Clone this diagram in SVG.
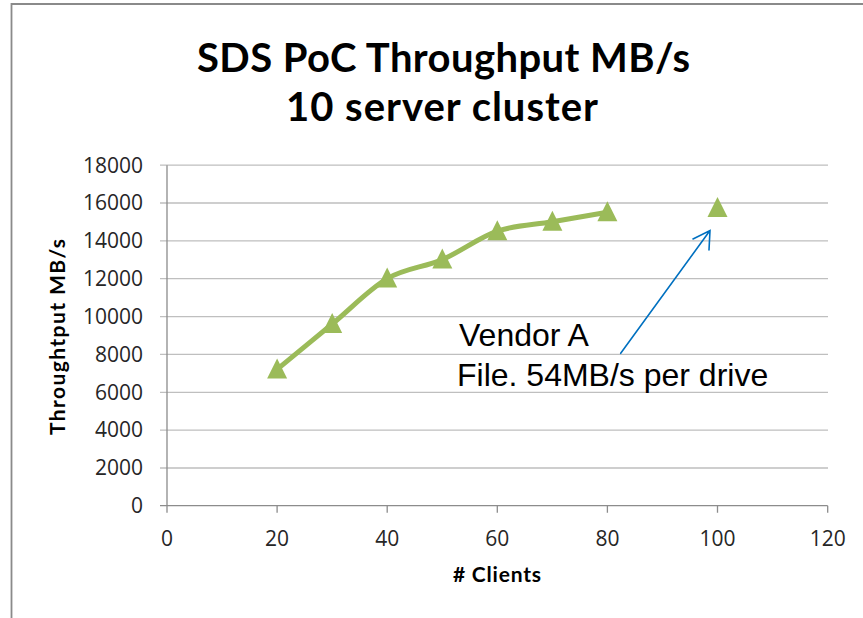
<svg xmlns="http://www.w3.org/2000/svg" width="863" height="618" viewBox="0 0 863 618">
<style>
.tick{font-family:"Open Sans","Liberation Sans",sans-serif;font-size:21px;fill:#262626}
.ylab{text-anchor:end}
.xlab{text-anchor:middle}
.grid{stroke:#BFBFBF;stroke-width:1.3;fill:none}
.axis{stroke:#8C8C8C;stroke-width:1.3;fill:none}
.title{font-family:"Lato","Open Sans","Liberation Sans",sans-serif;font-weight:bold;font-size:40px;fill:#000;text-anchor:middle}
.atitle{font-family:"Lato","Open Sans","Liberation Sans",sans-serif;font-weight:bold;font-size:21px;fill:#000;text-anchor:middle}
.mk{fill:#9BBB59}
.note{font-family:"Liberation Sans",Arial,sans-serif;font-size:32px;fill:#000}
</style>
<defs>
<path id="tri" d="M0,-11 L10,9 L-10,9 Z" class="mk"/>
</defs>
<rect x="0" y="0" width="863" height="618" fill="#fff"/>
<g id="frame">
<path d="M11.5,618 V4 H863" stroke="#8A8A8A" stroke-width="1.8" fill="none"/>
</g>
<g id="title">
<text class="title" x="443.5" y="72" textLength="493">SDS PoC Throughput MB/s</text>
<text class="title" x="442" y="121" textLength="312">10 server cluster</text>
</g>
<g id="gridlines">
<path class="grid" d="M160,165.2H828 M160,203H828 M160,240.9H828 M160,278.7H828 M160,316.6H828 M160,354.4H828 M160,392.3H828 M160,430.1H828 M160,468H828"/>
</g>
<g id="axes">
<path class="axis" d="M167,165.2V505.7 M160,505.7H827.7 M167,505.7v7 M277.1,505.7v7 M387.2,505.7v7 M497.3,505.7v7 M607.4,505.7v7 M717.5,505.7v7 M827.7,505.7v7"/>
</g>
<g id="yticks">
<text class="tick ylab" x="143" y="172.5">18000</text>
<text class="tick ylab" x="143" y="210.3">16000</text>
<text class="tick ylab" x="143" y="248.2">14000</text>
<text class="tick ylab" x="143" y="286">12000</text>
<text class="tick ylab" x="143" y="323.9">10000</text>
<text class="tick ylab" x="143" y="361.7">8000</text>
<text class="tick ylab" x="143" y="399.6">6000</text>
<text class="tick ylab" x="143" y="437.4">4000</text>
<text class="tick ylab" x="143" y="475.3">2000</text>
<text class="tick ylab" x="143" y="513">0</text>
</g>
<g id="xticks">
<text class="tick xlab" x="167" y="546">0</text>
<text class="tick xlab" x="277.1" y="546">20</text>
<text class="tick xlab" x="387.2" y="546">40</text>
<text class="tick xlab" x="497.3" y="546">60</text>
<text class="tick xlab" x="607.4" y="546">80</text>
<text class="tick xlab" x="717.5" y="546">100</text>
<text class="tick xlab" x="827.7" y="546">120</text>
</g>
<g id="axis-titles">
<text class="atitle" x="497" y="582" textLength="88"># Clients</text>
<text class="atitle" transform="translate(65,337) rotate(-90)" x="0" y="0" textLength="196">Throughtput MB/s</text>
</g>
<g id="series">
<path d="M277.1,369.4 C286.3,361.8 313.9,339.1 332.2,324 C350.6,308.9 368.9,289.3 387.2,278.6 C405.6,267.9 424,267.5 442.3,259.6 C460.6,251.7 479,237.5 497.3,231.2 C515.7,224.9 534.1,225 552.4,221.8 C570.8,218.6 598.2,213.9 607.4,212.3" stroke="#9BBB59" stroke-width="5" fill="none" stroke-linejoin="round" stroke-linecap="round"/>
<use href="#tri" x="277.1" y="369.4"/>
<use href="#tri" x="332.2" y="324"/>
<use href="#tri" x="387.2" y="278.6"/>
<use href="#tri" x="442.3" y="259.6"/>
<use href="#tri" x="497.3" y="231.2"/>
<use href="#tri" x="552.4" y="221.8"/>
<use href="#tri" x="607.4" y="212.3"/>
<use href="#tri" x="717.5" y="208"/>
</g>
<g id="annotation">
<text class="note" x="459" y="346">Vendor A</text>
<text class="note" x="457" y="386">File. 54MB/s per drive</text>
</g>
<g id="connectors">
<path d="M620.7,353.3 L710,230.5 M693,239 L710,230.5 L709,250" stroke="#0070C0" stroke-width="1.6" fill="none" stroke-linecap="round"/>
</g>
</svg>
